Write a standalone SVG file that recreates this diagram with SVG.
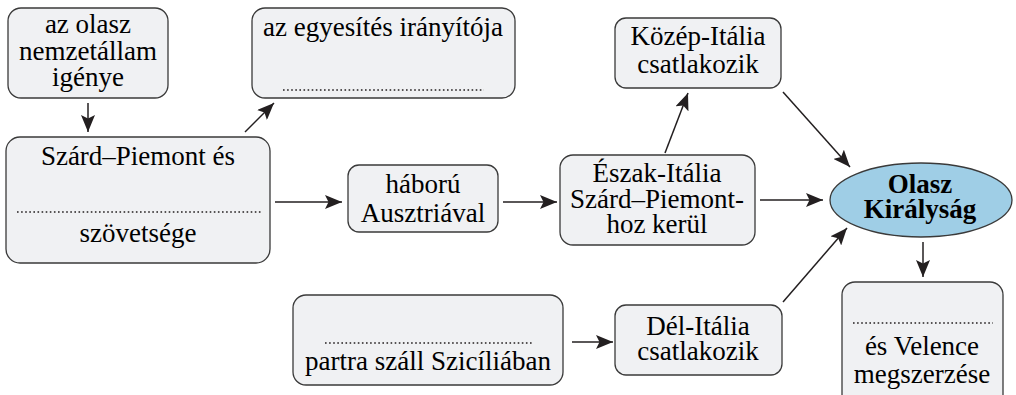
<svg xmlns="http://www.w3.org/2000/svg" width="1016" height="395" viewBox="0 0 1016 395">
<defs>
<marker id="ah" viewBox="0 0 17 14" refX="17" refY="7" markerWidth="17" markerHeight="14" markerUnits="userSpaceOnUse" orient="auto">
<path d="M0,0 L17,7 L0,14 L3.5,7 z" fill="#231f20"/>
</marker>
</defs>
<rect width="1016" height="395" fill="#fff"/>
<g id="n1">
<rect fill="#f0f1f3" stroke="#3a3a3a" stroke-width="1.3" x="8" y="8" width="160" height="90" rx="13"/>
<text style="font-family:'Liberation Serif';font-size:27px" text-anchor="middle" x="88" y="33">az olasz</text>
<text style="font-family:'Liberation Serif';font-size:27px" text-anchor="middle" x="88" y="60">nemzetállam</text>
<text style="font-family:'Liberation Serif';font-size:27px" text-anchor="middle" x="88" y="86">igénye</text>
</g>
<g id="n2">
<rect fill="#f0f1f3" stroke="#3a3a3a" stroke-width="1.3" x="252" y="8" width="263" height="90" rx="13"/>
<text style="font-family:'Liberation Serif';font-size:27px" text-anchor="middle" x="383" y="36">az egyesítés irányítója</text>
<line stroke="#231f20" stroke-width="1.6" stroke-dasharray="1.6 2.5" x1="283" y1="90" x2="484" y2="90"/>
</g>
<g id="n3">
<rect fill="#f0f1f3" stroke="#3a3a3a" stroke-width="1.3" x="6" y="137" width="264" height="126" rx="14"/>
<text style="font-family:'Liberation Serif';font-size:27px" text-anchor="middle" x="138" y="165">Szárd–Piemont és</text>
<line stroke="#231f20" stroke-width="1.6" stroke-dasharray="1.6 2.5" x1="17" y1="212" x2="261" y2="212"/>
<text style="font-family:'Liberation Serif';font-size:27px" text-anchor="middle" x="138" y="242">szövetsége</text>
</g>
<g id="n4">
<rect fill="#f0f1f3" stroke="#3a3a3a" stroke-width="1.3" x="348" y="165" width="150" height="67" rx="11"/>
<text style="font-family:'Liberation Serif';font-size:27px" text-anchor="middle" x="423" y="193">háború</text>
<text style="font-family:'Liberation Serif';font-size:27px" text-anchor="middle" x="423" y="222">Ausztriával</text>
</g>
<g id="n5">
<rect fill="#f0f1f3" stroke="#3a3a3a" stroke-width="1.3" x="560" y="155" width="195" height="90" rx="13"/>
<text style="font-family:'Liberation Serif';font-size:27px" text-anchor="middle" x="657" y="182">Észak-Itália</text>
<text style="font-family:'Liberation Serif';font-size:27px" text-anchor="middle" x="657" y="208">Szárd–Piemont-</text>
<text style="font-family:'Liberation Serif';font-size:27px" text-anchor="middle" x="657" y="233">hoz kerül</text>
</g>
<g id="n6">
<rect fill="#f0f1f3" stroke="#3a3a3a" stroke-width="1.3" x="615" y="18" width="166" height="70" rx="11"/>
<text style="font-family:'Liberation Serif';font-size:27px" text-anchor="middle" x="698" y="45">Közép-Itália</text>
<text style="font-family:'Liberation Serif';font-size:27px" text-anchor="middle" x="698" y="73">csatlakozik</text>
</g>
<g id="n7">
<ellipse cx="921" cy="200" rx="91" ry="37" fill="#9fcee6" stroke="#3a3a3a" stroke-width="1.3"/>
<text style="font-family:'Liberation Serif';font-size:27px;font-weight:bold" text-anchor="middle" x="920" y="193">Olasz</text>
<text style="font-family:'Liberation Serif';font-size:27px;font-weight:bold" text-anchor="middle" x="920" y="218">Királyság</text>
</g>
<g id="n8">
<rect fill="#f0f1f3" stroke="#3a3a3a" stroke-width="1.3" x="842" y="282" width="161" height="130" rx="13"/>
<line stroke="#231f20" stroke-width="1.6" stroke-dasharray="1.6 2.5" x1="853" y1="323" x2="993" y2="323"/>
<text style="font-family:'Liberation Serif';font-size:27px" text-anchor="middle" x="922" y="355">és Velence</text>
<text style="font-family:'Liberation Serif';font-size:27px" text-anchor="middle" x="922" y="383">megszerzése</text>
</g>
<g id="n9">
<rect fill="#f0f1f3" stroke="#3a3a3a" stroke-width="1.3" x="293" y="295" width="270" height="90" rx="13"/>
<line stroke="#231f20" stroke-width="1.6" stroke-dasharray="1.6 2.5" x1="325" y1="343" x2="534" y2="343"/>
<text style="font-family:'Liberation Serif';font-size:27px" text-anchor="middle" x="428" y="370">partra száll Szicíliában</text>
</g>
<g id="n10">
<rect fill="#f0f1f3" stroke="#3a3a3a" stroke-width="1.3" x="615" y="305" width="167" height="70" rx="11"/>
<text style="font-family:'Liberation Serif';font-size:27px" text-anchor="middle" x="698" y="335">Dél-Itália</text>
<text style="font-family:'Liberation Serif';font-size:27px" text-anchor="middle" x="698" y="360">csatlakozik</text>
</g>
<g id="connectors" stroke="#231f20" stroke-width="1.5" marker-end="url(#ah)">
<line x1="88" y1="103" x2="88" y2="132"/>
<line x1="245" y1="132" x2="274" y2="103"/>
<line x1="275" y1="202" x2="342" y2="202"/>
<line x1="503" y1="202" x2="557" y2="202"/>
<line x1="665" y1="153" x2="688" y2="93"/>
<line x1="760" y1="200" x2="823" y2="200"/>
<line x1="783" y1="92" x2="850" y2="167"/>
<line x1="783" y1="302" x2="847" y2="228"/>
<line x1="923" y1="242" x2="923" y2="277"/>
<line x1="572" y1="342" x2="613" y2="342"/>
</g>
</svg>
